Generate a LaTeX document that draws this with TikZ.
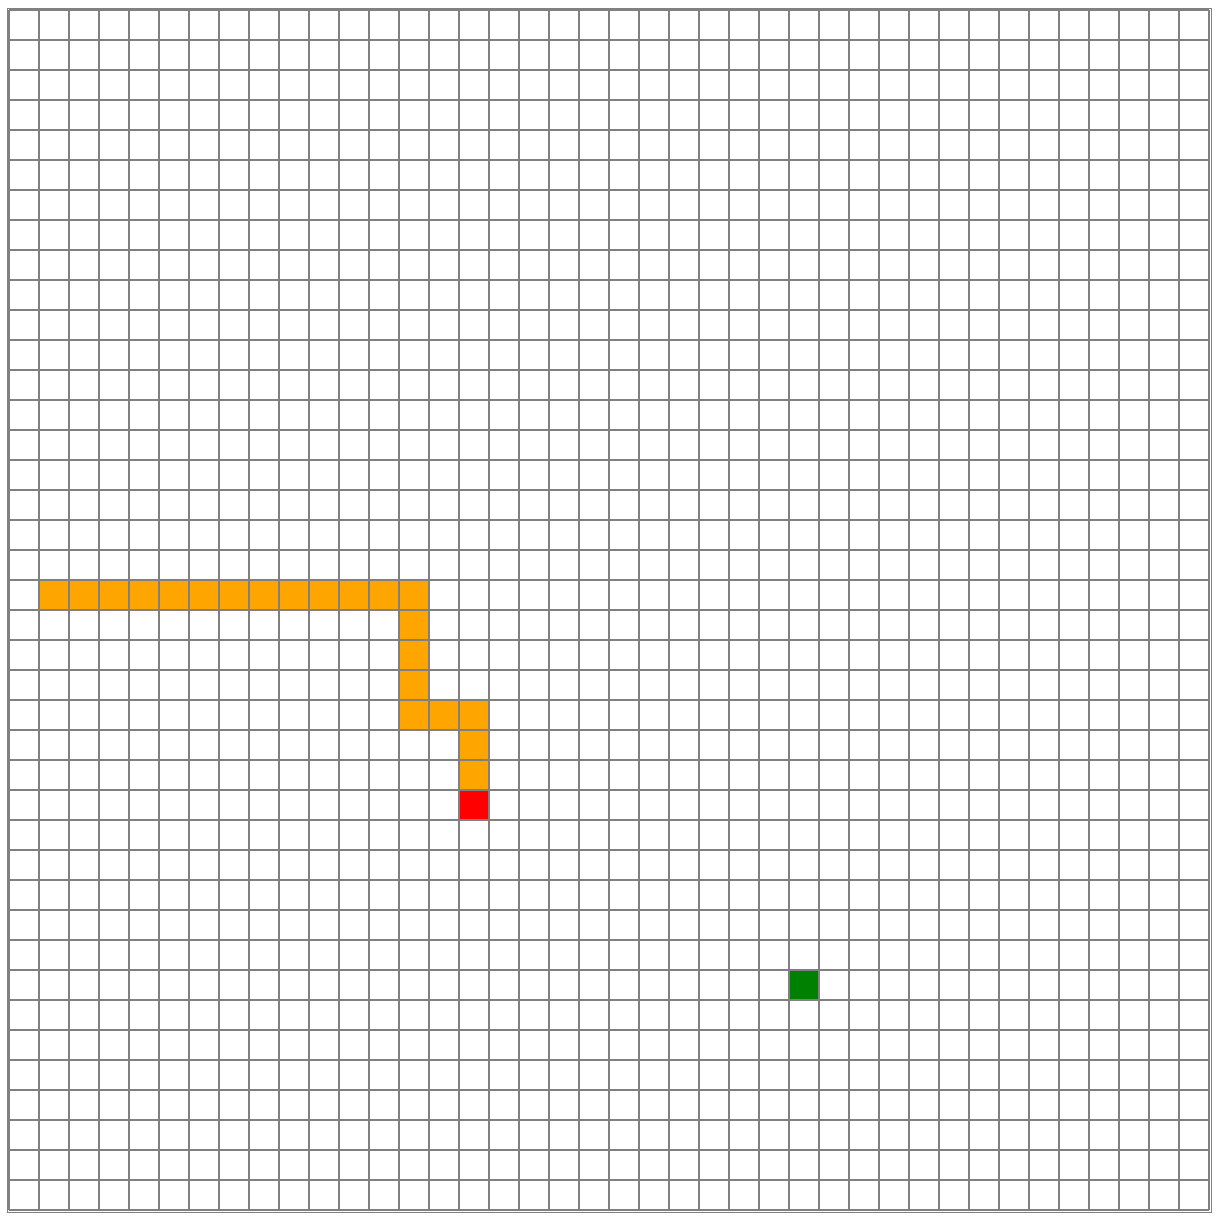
\documentclass[tikz,border=0pt]{standalone}
\definecolor{snakeorange}{RGB}{255,165,0}
\definecolor{headred}{RGB}{255,0,0}
\definecolor{foodgreen}{RGB}{0,128,0}
\definecolor{gridgray}{RGB}{128,128,128}
\begin{document}
\begin{tikzpicture}[x=1pt,y=-1pt,
  gridline/.style={draw=gridgray,line width=2pt},
  frameline/.style={draw=gridgray,line width=1pt}]
\useasboundingbox (0,0) rectangle (1222,1226);
% snake body
\foreach \c/\r in {1/19,2/19,3/19,4/19,5/19,6/19,7/19,8/19,9/19,10/19,11/19,12/19,13/19,
                   13/20,13/21,13/22,13/23,14/23,15/23,15/24,15/25}
  \fill[snakeorange] ({9+30*\c},{10+30*\r}) rectangle ++(30,30);
% head
\fill[headred] ({9+30*15},{10+30*26}) rectangle ++(30,30);
% food
\fill[foodgreen] ({9+30*26},{10+30*32}) rectangle ++(30,30);
% grid
\foreach \i in {0,...,40} {
  \draw[gridline] ({9+30*\i},10) -- ({9+30*\i},1210);
  \draw[gridline] (9,{10+30*\i}) -- (1209,{10+30*\i});
}
% outer frame
\draw[frameline] (7,8) rectangle (1211,1212);
\end{tikzpicture}
\end{document}
